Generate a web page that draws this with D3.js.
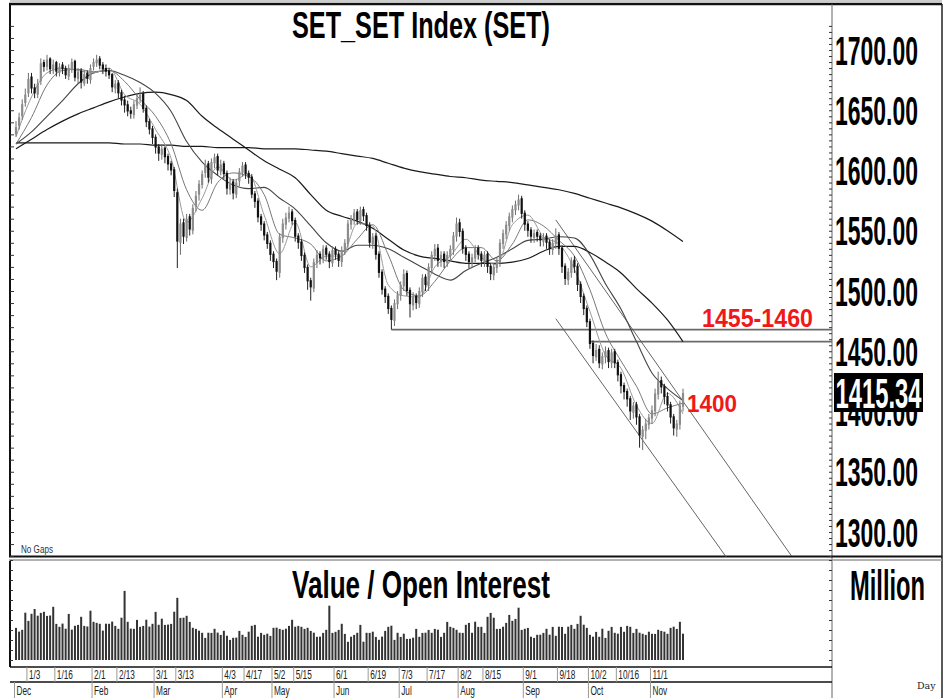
<!DOCTYPE html>
<html lang="en">
<head>
<meta charset="UTF-8">
<title>SET_SET Index (SET)</title>
<script src="https://cdn.jsdelivr.net/npm/d3@7"></script>
<style>
  body { margin: 0; background: #fff; }
  svg { display: block; }
</style>
</head>
<body>
<script>
// daily bars, Dec -> mid Nov (index 0..215)
const openPx = [
  1630,1637,1645,1656,1664,1678,1669,1663,1674,1690,
  1686,1693,1683,1690,1681,1688,1685,1678,1684,1691,
  1676,1683,1672,1681,1675,1686,1689,1693,1688,1685,
  1683,1680,1668,1673,1665,1659,1655,1650,1646,1654,
  1659,1664,1652,1641,1635,1628,1620,1613,1619,1612,
  1606,1601,1582,1540,1557,1544,1562,1550,1570,1580,
  1588,1598,1606,1593,1606,1612,1599,1606,1598,1584,
  1591,1580,1591,1598,1605,1598,1595,1581,1575,1562,
  1556,1547,1540,1531,1525,1515,1544,1555,1560,1566,
  1559,1546,1541,1530,1520,1509,1502,1523,1531,1526,
  1536,1531,1523,1535,1531,1524,1533,1539,1555,1559,
  1566,1558,1568,1563,1555,1539,1546,1531,1516,1502,
  1496,1486,1475,1489,1496,1504,1515,1501,1488,1496,
  1489,1499,1512,1504,1519,1529,1536,1524,1531,1523,
  1529,1534,1545,1557,1550,1536,1531,1523,1527,1536,
  1531,1524,1531,1521,1513,1519,1524,1539,1547,1554,
  1561,1567,1571,1577,1565,1556,1551,1544,1549,1546,
  1541,1546,1541,1534,1539,1547,1536,1521,1509,1515,
  1526,1521,1506,1496,1486,1475,1457,1445,1452,1439,
  1445,1451,1440,1450,1441,1431,1422,1417,1411,1399,
  1406,1396,1379,1384,1389,1394,1400,1414,1426,1421,
  1413,1406,1396,1385,1389,1404
];
const highPx = [
  1641,1648,1659,1668,1681,1681,1672,1676,1693,1692,
  1696,1694,1692,1691,1689,1690,1687,1688,1693,1692,
  1685,1685,1683,1683,1688,1693,1696,1695,1690,1688,
  1685,1681,1675,1675,1667,1662,1658,1653,1658,1664,
  1669,1666,1654,1643,1637,1630,1622,1622,1620,1614,
  1608,1603,1585,1560,1560,1564,1564,1572,1583,1592,
  1600,1609,1608,1610,1614,1614,1609,1608,1600,1594,
  1593,1593,1602,1607,1607,1600,1597,1583,1577,1564,
  1558,1549,1542,1533,1527,1548,1560,1565,1570,1568,
  1561,1548,1543,1532,1522,1511,1527,1534,1533,1538,
  1538,1533,1537,1537,1533,1537,1543,1559,1563,1568,
  1568,1570,1570,1565,1557,1548,1548,1533,1518,1504,
  1498,1488,1493,1500,1508,1518,1517,1503,1499,1498,
  1503,1514,1514,1523,1533,1539,1539,1533,1533,1533,
  1538,1549,1561,1560,1552,1538,1533,1531,1538,1538,
  1533,1533,1533,1523,1523,1528,1543,1551,1558,1565,
  1571,1575,1580,1579,1567,1558,1553,1551,1551,1548,
  1548,1548,1543,1543,1552,1549,1538,1523,1519,1528,
  1529,1523,1508,1498,1488,1477,1459,1456,1455,1449,
  1454,1453,1452,1452,1443,1433,1424,1419,1413,1408,
  1408,1398,1388,1394,1398,1405,1419,1433,1429,1423,
  1416,1408,1398,1393,1409,1419
];
const lowPx = [
  1628,1634,1642,1653,1661,1664,1660,1660,1671,1682,
  1683,1680,1680,1678,1678,1680,1676,1675,1681,1674,
  1672,1668,1670,1672,1672,1683,1686,1684,1680,1678,
  1676,1665,1664,1660,1654,1648,1645,1643,1643,1651,
  1656,1648,1636,1630,1622,1614,1608,1609,1606,1600,
  1596,1578,1519,1530,1539,1541,1546,1547,1566,1575,
  1585,1594,1590,1589,1602,1596,1596,1593,1580,1580,
  1576,1577,1587,1595,1593,1589,1577,1569,1557,1550,
  1542,1535,1525,1519,1509,1511,1540,1551,1557,1555,
  1541,1535,1525,1515,1501,1492,1499,1519,1522,1523,
  1526,1519,1520,1526,1520,1520,1530,1536,1551,1555,
  1555,1555,1558,1550,1536,1535,1526,1511,1497,1490,
  1481,1468,1471,1485,1492,1500,1496,1478,1484,1485,
  1486,1495,1500,1500,1515,1525,1520,1520,1519,1520,
  1525,1530,1541,1545,1531,1525,1519,1519,1524,1526,
  1520,1520,1515,1509,1509,1515,1520,1535,1543,1550,
  1557,1563,1567,1560,1550,1545,1540,1540,1541,1537,
  1537,1535,1530,1530,1535,1530,1515,1505,1505,1511,
  1515,1500,1490,1480,1470,1452,1440,1442,1436,1435,
  1440,1436,1436,1436,1425,1415,1410,1404,1393,1394,
  1389,1370,1368,1377,1385,1390,1396,1410,1415,1406,
  1400,1390,1380,1379,1385,1400
];
const closePx = [
  1636,1644,1655,1663,1676,1668,1664,1672,1689,1686,
  1692,1684,1688,1682,1686,1684,1679,1685,1690,1677,
  1682,1673,1680,1676,1685,1690,1692,1687,1684,1682,
  1679,1669,1672,1664,1658,1654,1649,1647,1655,1660,
  1663,1651,1640,1634,1627,1619,1614,1618,1611,1605,
  1600,1583,1541,1556,1545,1560,1551,1569,1579,1589,
  1597,1605,1594,1607,1611,1600,1605,1597,1585,1590,
  1581,1590,1599,1604,1597,1594,1580,1574,1561,1555,
  1546,1539,1530,1524,1516,1545,1556,1561,1565,1558,
  1545,1540,1529,1519,1508,1503,1524,1530,1527,1535,
  1530,1524,1534,1530,1525,1534,1540,1556,1560,1565,
  1559,1567,1562,1554,1540,1545,1530,1515,1501,1495,
  1485,1476,1490,1497,1505,1514,1500,1489,1495,1490,
  1500,1511,1505,1520,1530,1535,1525,1530,1524,1530,
  1535,1546,1556,1549,1535,1530,1524,1528,1535,1530,
  1525,1530,1520,1514,1520,1525,1540,1548,1555,1562,
  1568,1572,1576,1564,1555,1550,1545,1548,1545,1542,
  1545,1540,1535,1540,1546,1535,1520,1510,1516,1525,
  1520,1505,1495,1485,1474,1456,1446,1451,1440,1446,
  1450,1441,1449,1440,1430,1421,1416,1410,1400,1405,
  1395,1380,1385,1390,1395,1401,1415,1425,1420,1412,
  1405,1395,1386,1390,1405,1415.34
];
// traded value, million
const valueMil = [
  32100,28400,30200,47300,39100,46200,51000,44300,47100,48200,
  44100,44500,53200,36100,33200,36400,31300,46100,30400,34200,
  35100,43200,34100,33500,49300,38200,37100,36200,29400,36300,
  36200,38400,34100,31200,42300,69100,38200,31400,31200,40100,
  33200,34100,40300,33400,36200,48100,35200,41300,35100,35400,
  36100,48300,62200,42100,42300,44200,38100,32200,31100,29300,
  27200,22100,27300,27100,31200,27400,25100,29200,24300,20100,
  22200,22400,29100,25200,23100,28300,34200,35100,23300,27100,
  25200,26300,24100,32200,32400,31100,30200,31300,34100,40200,
  33300,34100,33200,31100,32200,29100,27300,23200,23400,27100,
  30200,54300,27100,28200,30100,36200,26100,18200,23300,25100,
  27200,35100,18300,27200,27100,28300,23100,20200,23400,29100,
  33200,34300,20100,27200,23100,26300,21100,21200,22300,31100,
  23200,27100,27300,30100,27200,31100,30300,23100,27200,38100,
  33200,32100,30200,27300,27100,35200,37100,27200,38300,33100,
  33200,27100,43200,47100,42300,31100,31200,33300,37100,45100,
  39200,41100,52300,30100,31200,32100,23300,22100,25200,25300,
  27100,31200,25300,33100,24200,33300,33100,26200,33300,35100,
  31200,36100,44200,35300,32100,25200,23300,28100,23200,31300,
  22100,29200,33100,27200,26300,33100,28200,34100,33200,27100,
  31100,27300,26200,25100,28300,26200,26100,30200,29100,28300,
  26200,32100,33300,31100,38200,26300
];

// moving averages at these bar indexes
const maIdx = [0,5,10,15,20,25,30,35,40,45,50,55,60,65,70,75,80,85,90,95,100,105,
  110,115,120,125,130,135,140,145,150,155,160,165,170,175,180,185,190,195,200,205,210,215];
const ma5 = [1628,1661,1681,1685,1683,1681,1685,1663,1655,1634,1610,1557,1577,1603,1592,1597,1563,1531,1557,1520,1529,1529,
  1556,1554,1505,1496,1495,1520,1529,1543,1528,1522,1555,1563,1545,1539,1518,1483,1447,1436,1405,1390,1415,1398];
const ma10 = [1622,1644,1671,1683,1684,1682,1683,1674,1659,1645,1622,1584,1567,1590,1598,1595,1580,1547,1544,1539,1525,1529,
  1543,1555,1530,1501,1496,1508,1525,1536,1536,1525,1539,1559,1554,1542,1529,1501,1465,1442,1421,1398,1403,1407];
const ma25 = [1622,1632,1645,1658,1672,1681,1683,1679,1673,1664,1649,1624,1607,1596,1588,1585,1586,1577,1568,1554,1540,1533,
  1538,1538,1535,1528,1521,1514,1509,1517,1523,1528,1535,1542,1543,1545,1544,1530,1506,1485,1458,1432,1419,1409];
const ma75 = [1618,1626,1634,1641,1647,1652,1657,1661,1664,1665,1663,1658,1645,1635,1626,1617,1608,1601,1594,1580,1567,1562,
  1558,1552,1543,1534,1529,1527,1525,1523,1523,1523,1524,1527,1533,1537,1537,1532,1524,1515,1502,1490,1476,1458];
const ma200 = [1623,1623,1623,1623,1623,1623,1623,1622,1622,1621,1621,1620,1620,1619,1619,1619,1618,1618,1618,1617,1616,1614,
  1612,1610,1606,1602,1599,1597,1595,1594,1592,1591,1590,1588,1586,1584,1581,1577,1573,1569,1564,1558,1550,1541];

// drawn support levels: [price, start bar]
const supportLines = [[1468, 121], [1458, 185]];
// down channel: [bar0, price0, bar1, price1]
const channelLines = [[174, 1477, 229, 1279], [174, 1559, 250, 1280]];

const priceTicks = [1300, 1350, 1400, 1450, 1500, 1550, 1600, 1650, 1700];
const lastPrice = 1415.34;

const dayLabels = ["1/3","1/16","2/1","2/13","3/1","3/13","4/3","4/17","5/2","5/15","6/1",
  "6/19","7/3","7/17","8/2","8/15","9/1","9/18","10/2","10/16","11/1"];
const dayIdx = [4,13,25,33,45,52,67,74,83,90,103,114,124,133,143,151,164,175,185,194,205];
const monthLabels = ["Dec","Feb","Mar","Apr","May","Jun","Jul","Aug","Sep","Oct","Nov"];
const monthIdx = [0,25,45,67,83,103,124,143,164,185,205];

// ---- layout
const W = 950, H = 698;
const padL = 10, axisX = 832, padR = 942;
const topY = 4, priceBottom = 557, volTop = 561, volBottom = 667, dayRow = 682;
const FONT = "'Liberation Sans', Arial, sans-serif";

const x = d3.scaleLinear().domain([0, 215]).range([16, 683]);
const y = d3.scaleLinear().domain([1300, 1700]).range([532, 50]);
const yv = d3.scaleLinear().domain([0, 100000]).range([660, 560]);

const svg = d3.select("body").append("svg")
  .attr("width", W).attr("height", H)
  .attr("viewBox", [0, 0, W, H])
  .style("font-family", FONT);

// condensed bold text: fit the width with the font size, stretch the height
function narrowText(parent, str, tx, base, w, capH, opts = {}) {
  const t = parent.append("text").text(str)
    .attr("fill", opts.fill || "#000")
    .style("font-weight", opts.weight || "bold")
    .style("font-size", "100px");
  const fs = 100 * w / t.node().getComputedTextLength();
  const sy = capH / (0.716 * fs);
  t.style("font-size", fs + "px")
   .attr("transform", `translate(${tx},${base}) scale(1,${sy})`);
  return t;
}

svg.append("defs").append("clipPath").attr("id", "pclip")
  .append("rect").attr("x", padL).attr("y", topY).attr("width", axisX - padL).attr("height", priceBottom - topY);

// ---- frames
const frame = svg.append("g").attr("fill", "none");
frame.append("line").attr("x1", padL).attr("x2", padR).attr("y1", 1).attr("y2", 1).attr("stroke", "#999").attr("stroke-width", 1);
frame.append("line").attr("x1", padL - 1).attr("x2", padR).attr("y1", topY).attr("y2", topY).attr("stroke", "#111").attr("stroke-width", 2.5);
frame.append("line").attr("x1", padL).attr("x2", padL).attr("y1", topY).attr("y2", priceBottom).attr("stroke", "#111").attr("stroke-width", 2);
frame.append("line").attr("x1", padL).attr("x2", padL).attr("y1", volTop).attr("y2", volBottom).attr("stroke", "#111").attr("stroke-width", 2);
frame.append("line").attr("x1", padR).attr("x2", padR).attr("y1", topY).attr("y2", H).attr("stroke", "#222").attr("stroke-width", 1.5);
frame.append("line").attr("x1", axisX).attr("x2", axisX).attr("y1", topY).attr("y2", H).attr("stroke", "#666").attr("stroke-width", 1);
frame.append("line").attr("x1", padL - 1).attr("x2", padR).attr("y1", priceBottom - 0.5).attr("y2", priceBottom - 0.5).attr("stroke", "#111").attr("stroke-width", 2);
frame.append("line").attr("x1", padL - 1).attr("x2", padR).attr("y1", priceBottom + 3).attr("y2", priceBottom + 3).attr("stroke", "#999").attr("stroke-width", 1.5);
frame.append("line").attr("x1", padL).attr("x2", axisX).attr("y1", volBottom).attr("y2", volBottom).attr("stroke", "#111").attr("stroke-width", 1.5);
frame.append("line").attr("x1", padL).attr("x2", axisX).attr("y1", dayRow).attr("y2", dayRow).attr("stroke", "#111").attr("stroke-width", 1.5);

// ---- tick marks
function minorTicks(g, axis) {
  g.call(axis.tickFormat(() => null))
   .call(g => g.select(".domain").remove())
   .call(g => g.selectAll(".tick line").attr("stroke", "#333"));
}
svg.append("g").attr("transform", `translate(${padL},0)`)
  .call(g => minorTicks(g, d3.axisRight(y).tickValues(d3.range(1280, 1725, 10)).tickSize(4)));
svg.append("g").attr("transform", `translate(${axisX},0)`)
  .call(g => minorTicks(g, d3.axisLeft(y).tickValues(d3.range(1280, 1725, 5)).tickSize(3)));
svg.append("g").attr("transform", `translate(${padL},0)`)
  .call(g => minorTicks(g, d3.axisRight(yv).tickValues(d3.range(0, 100001, 10000)).tickSize(3)));
svg.append("g").attr("transform", `translate(${axisX},0)`)
  .call(g => minorTicks(g, d3.axisLeft(yv).tickValues(d3.range(0, 100001, 10000)).tickSize(3)));

// ---- price axis labels
const fmt = d3.format(".2f");
const priceLabels = svg.append("g");
priceTicks.forEach(v => narrowText(priceLabels, fmt(v), 835, y(v) + 14.5, 83, 29));

// last price tag
svg.append("rect").attr("x", 834).attr("y", y(lastPrice) - 20).attr("width", 89).attr("height", 39).attr("fill", "#000");
narrowText(svg, fmt(lastPrice), 835.5, y(lastPrice) + 14.5, 86, 30, { fill: "#fff" });

// ---- plot content (clipped)
const plot = svg.append("g").attr("clip-path", "url(#pclip)");

plot.append("g").selectAll("line").data(supportLines).join("line")
  .attr("x1", d => x(d[1])).attr("x2", axisX)
  .attr("y1", d => y(d[0])).attr("y2", d => y(d[0]))
  .attr("stroke", "#6a6a6a").attr("stroke-width", 1.8);

plot.append("g").selectAll("line").data(channelLines).join("line")
  .attr("x1", d => x(d[0])).attr("y1", d => y(d[1]))
  .attr("x2", d => x(d[2])).attr("y2", d => y(d[3]))
  .attr("stroke", "#555").attr("stroke-width", 0.9);

const maLine = d3.line().x((d, k) => x(maIdx[k])).y(d => y(d)).curve(d3.curveMonotoneX);
const maSpecs = [
  [ma200, "#1a1a1a", 1.2],
  [ma75, "#1a1a1a", 1.2],
  [ma25, "#444", 1.1],
  [ma10, "#777", 1],
  [ma5, "#9a9a9a", 1]
];
plot.append("g").attr("fill", "none").selectAll("path").data(maSpecs).join("path")
  .attr("d", d => maLine(d[0]))
  .attr("stroke", d => d[1]).attr("stroke-width", d => d[2]);

const bars = plot.append("g").selectAll("g").data(closePx).join("g");
bars.append("line")
  .attr("x1", (d, i) => x(i)).attr("x2", (d, i) => x(i))
  .attr("y1", (d, i) => y(highPx[i])).attr("y2", (d, i) => y(lowPx[i]))
  .attr("stroke", (d, i) => d >= openPx[i] ? "#6e6e6e" : "#222").attr("stroke-width", 1);
bars.append("rect")
  .attr("x", (d, i) => x(i) - 1.1).attr("width", 2.2)
  .attr("y", (d, i) => y(Math.max(d, openPx[i])))
  .attr("height", (d, i) => Math.max(1, Math.abs(y(d) - y(openPx[i]))))
  .attr("fill", (d, i) => d >= openPx[i] ? "#8c8c8c" : "#111");

// annotations
narrowText(svg, "1455-1460", 702, 327, 111, 18.5, { fill: "#f01818" });
narrowText(svg, "1400", 687, 412, 50, 17, { fill: "#f01818" });

// titles
narrowText(svg, "SET_SET Index (SET)", 292, 38, 258, 26);
narrowText(svg, "No Gaps", 21, 553, 32, 7.5, { fill: "#333", weight: "normal" });

// ---- value panel
svg.append("g").selectAll("rect").data(valueMil).join("rect")
  .attr("x", (d, i) => x(i) - 1).attr("width", 2)
  .attr("y", d => yv(d)).attr("height", d => yv(0) - yv(d))
  .attr("fill", "#333");

narrowText(svg, "Value / Open Interest", 292, 598, 258, 28);
narrowText(svg, "Million", 850, 600, 75, 30);
svg.append("text").attr("x", 917).attr("y", 689)
  .style("font-family", "'DejaVu Serif', serif").style("font-size", "9.5px").attr("fill", "#222").text("Day");

// ---- date axis
const dateAxis = svg.append("g");
const days = dateAxis.selectAll("g.day").data(dayLabels).join("g").attr("class", "day");
days.append("line")
  .attr("x1", (d, k) => x(dayIdx[k]) - 1.5).attr("x2", (d, k) => x(dayIdx[k]) - 1.5)
  .attr("y1", volBottom).attr("y2", dayRow).attr("stroke", "#999");
days.append("text")
  .attr("transform", (d, k) => `translate(${x(dayIdx[k]) + 0.5},${dayRow - 3}) scale(0.66,1)`)
  .style("font-size", "12.5px").attr("fill", "#222").text(d => d);

const months = dateAxis.selectAll("g.month").data(monthLabels).join("g").attr("class", "month");
months.append("line")
  .attr("x1", (d, k) => x(monthIdx[k]) - 1.5).attr("x2", (d, k) => x(monthIdx[k]) - 1.5)
  .attr("y1", dayRow).attr("y2", H).attr("stroke", "#999");
months.append("text")
  .attr("transform", (d, k) => `translate(${x(monthIdx[k]) + 0.5},${H - 3}) scale(0.66,1)`)
  .style("font-size", "12.5px").attr("fill", "#222").text(d => d);
</script>
</body>
</html>
